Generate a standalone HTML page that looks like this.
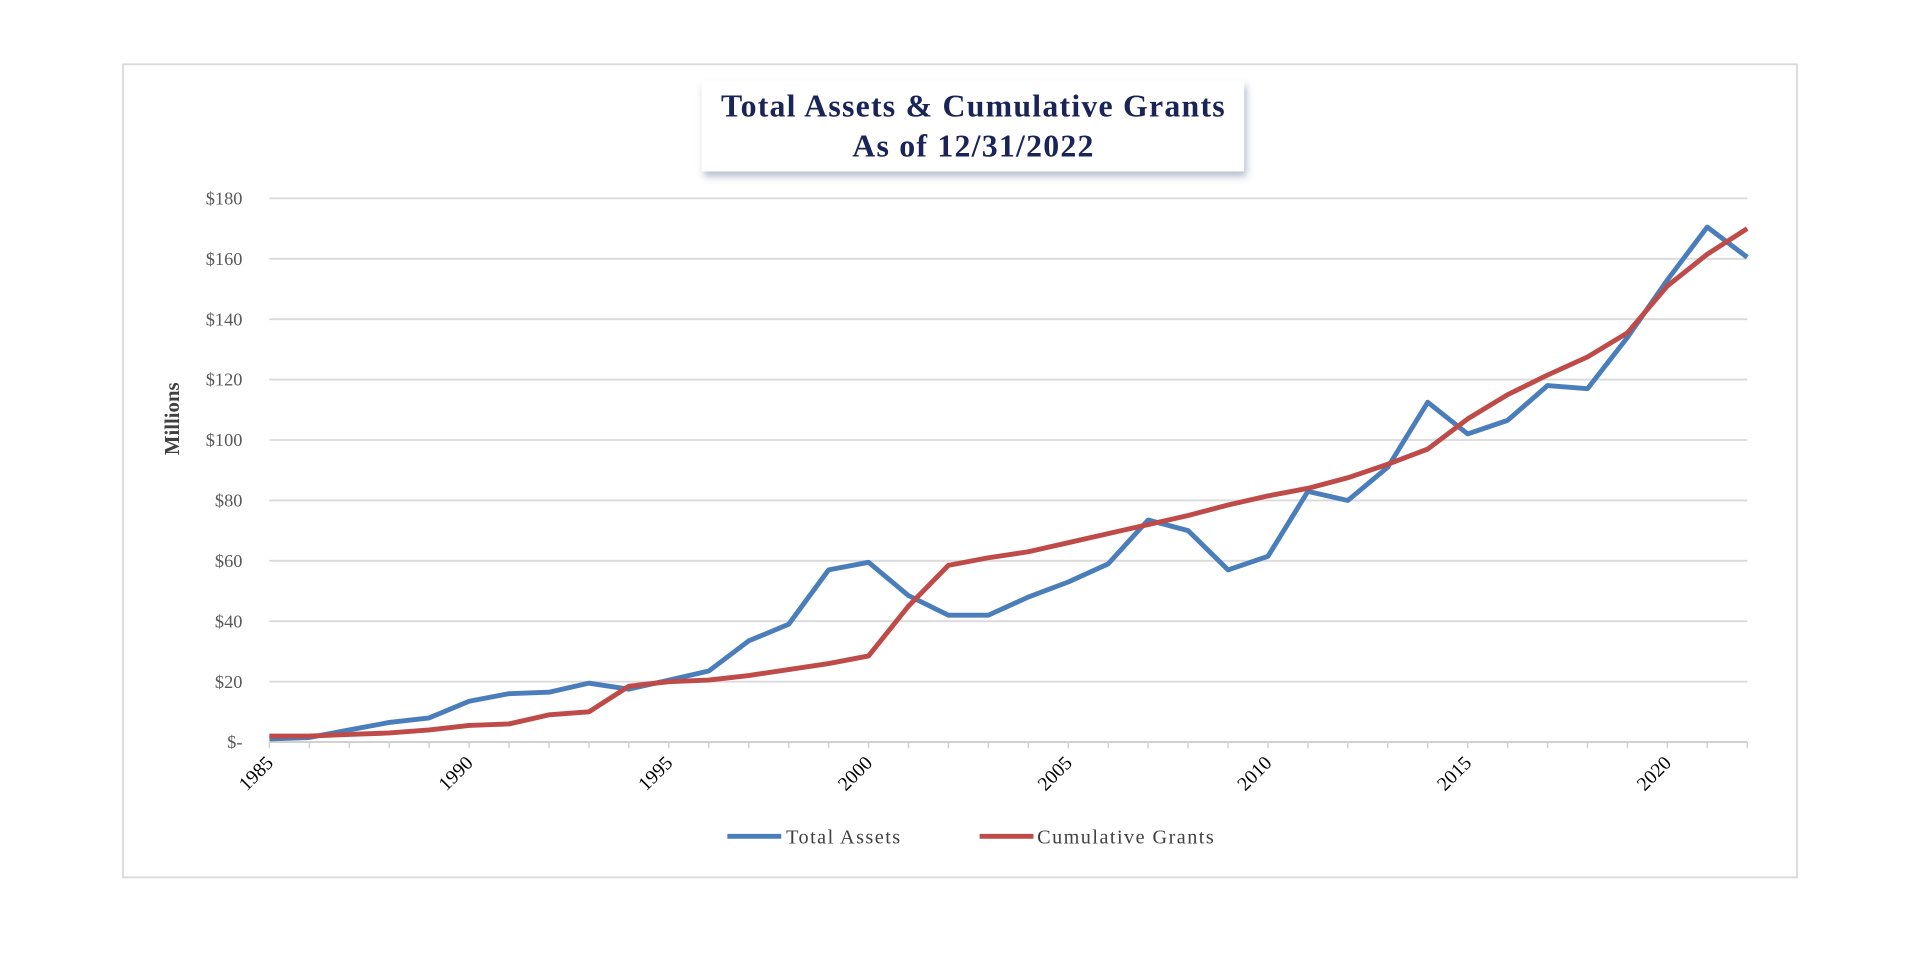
<!DOCTYPE html>
<html><head><meta charset="utf-8"><style>
html,body{margin:0;padding:0;background:#fff;}
svg{display:block;}
text{font-family:"Liberation Serif",serif;}
</style></head><body>
<svg id="c" width="1920" height="964" viewBox="0 0 1568 787.26" preserveAspectRatio="none">
<defs><filter id="sh" x="-10%" y="-20%" width="125%" height="150%"><feDropShadow dx="2" dy="4" stdDeviation="3" flood-color="#5a6a8a" flood-opacity="0.45"/></filter></defs>
<rect x="100.5" y="52.5" width="1367" height="664" fill="#fff" stroke="#d9d9d9" stroke-width="1.5"/>
<g id="grid"></g>
<rect x="573" y="66" width="443" height="74" fill="#fff" filter="url(#sh)"/>
<text x="795" y="95" text-anchor="middle" font-size="26" font-weight="bold" letter-spacing="1" fill="#1a2456">Total Assets &amp; Cumulative Grants</text>
<text x="795" y="128" text-anchor="middle" font-size="26" font-weight="bold" letter-spacing="1" fill="#1a2456">As of 12/31/2022</text>
<text transform="translate(146,342) rotate(-90)" text-anchor="middle" font-size="17" font-weight="bold" fill="#404040">Millions</text>
<g id="series"></g>
<line x1="594" y1="683" x2="638" y2="683" stroke="#4a7ebb" stroke-width="4"/>
<text x="642" y="689" font-size="16.5" letter-spacing="1.2" fill="#404040">Total Assets</text>
<line x1="800" y1="683" x2="844" y2="683" stroke="#be4b48" stroke-width="4"/>
<text x="847" y="689" font-size="16.5" letter-spacing="1.2" fill="#404040">Cumulative Grants</text>
</svg>
<script>
var NS="http://www.w3.org/2000/svg";
function el(t,a,p,txt){var e=document.createElementNS(NS,t);for(var k in a)e.setAttribute(k,a[k]);if(txt!==undefined)e.textContent=txt;p.appendChild(e);return e;}
function X(y){return 220+(y-1985)*32.62;}
function Y(v){return 606-v*2.4667;}
var g=document.getElementById('grid');
var labs=["$-","$20","$40","$60","$80","$100","$120","$140","$160","$180"];
for(var i=0;i<=9;i++){var yy=Y(i*20);
 el('line',{x1:220,x2:1427,y1:yy,y2:yy,stroke:'#dadada','stroke-width':1.5},g);
 el('text',{x:198,y:yy+5,'text-anchor':'end','font-size':15,fill:'#595959'},g,labs[i]);}
el('line',{x1:220,x2:1427,y1:606,y2:606,stroke:'#d0d0d0','stroke-width':1.5},g);
for(var yr=1985;yr<=2022;yr++){el('line',{x1:X(yr),x2:X(yr),y1:606,y2:611,stroke:'#d0d0d0','stroke-width':1.2},g);}
for(var yr=1985;yr<=2020;yr+=5){el('text',{transform:'translate('+(X(yr)+4)+',624) rotate(-45)','text-anchor':'end','font-size':16,fill:'#000'},g,String(yr));}
var blue=[1,1.5,4,6.5,8,13.5,16,16.5,19.5,17.5,20.5,23.5,33.5,39,57,59.5,48.5,42,42,48,53,59,73.5,70,57,61.5,83,80,91,112.5,102,106.5,118,117,134,153,170.5,160.5];
var red=[2,2,2.5,3,4,5.5,6,9,10,18.5,20,20.5,22,24,26,28.5,45,58.5,61,63,66,69,72,75,78.5,81.5,84,87.5,92,97,107,115,121.5,127.5,135.5,151,161.5,170];
var s=document.getElementById('series');
function pl(d,c){var p=d.map(function(v,i){return X(1985+i).toFixed(1)+','+Y(v).toFixed(1);}).join(' ');
 el('polyline',{points:p,fill:'none',stroke:c,'stroke-width':4,'stroke-linejoin':'round'},s);}
pl(blue,'#4a7ebb');pl(red,'#be4b48');
</script>
</body></html>
